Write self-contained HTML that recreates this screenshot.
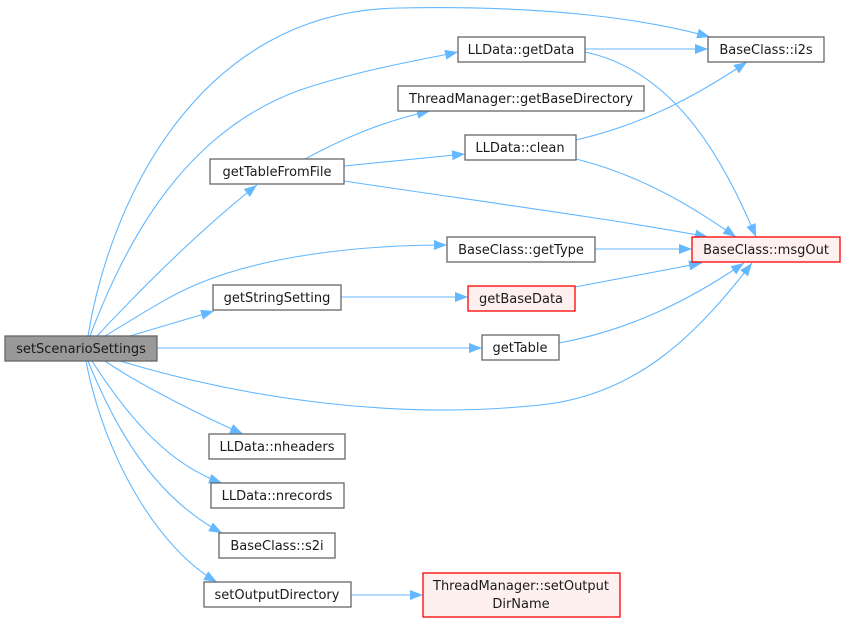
<!DOCTYPE html>
<html><head><meta charset="utf-8"><style>
html,body{margin:0;padding:0;background:#fff;}
svg{display:block;}
text{font-family:"DejaVu Sans","Liberation Sans",sans-serif;font-size:13px;fill:#1a1a1a;}
</style></head><body>
<svg width="845" height="623" viewBox="0 0 845 623" xmlns="http://www.w3.org/2000/svg">
<defs>
<marker id="a" markerUnits="userSpaceOnUse" markerWidth="14" markerHeight="11" refX="13" refY="5" orient="auto">
<path d="M0,0 L13,5 L0,10 z" fill="#63b8ff"/>
</marker>
</defs>
<g fill="none" stroke="#63b8ff" stroke-width="1.1" marker-end="url(#a)">
<path d="M88,336 C110,200 200,10 400,8 C550,5 650,20 710,37"/>
<path d="M90,336 C130,230 190,130 300,90 C360,70 420,60 458,52"/>
<path d="M97,336 C140,290 200,230 257,185"/>
<path d="M105,336 C140,315 170,295 200,283 C260,258 350,245 447,245"/>
<path d="M130,336 L214,311"/>
<path d="M157,348 L482,348"/>
<path d="M120,361 C250,400 400,420 540,405 C640,395 700,330 752,263"/>
<path d="M105,361 C140,385 200,415 243,434"/>
<path d="M92,361 C130,420 170,465 222,483"/>
<path d="M88,361 C120,440 160,500 222,533"/>
<path d="M86,361 C105,460 160,550 217,582"/>
<path d="M305,159 C340,140 380,122 430,111"/>
<path d="M344,166 L465,154"/>
<path d="M344,181 C470,200 620,220 708,237"/>
<path d="M585,49 L708,49"/>
<path d="M585,52 C670,70 720,150 756,237"/>
<path d="M576,140 C640,125 690,100 747,62"/>
<path d="M576,159 C640,175 690,205 736,237"/>
<path d="M595,249 L692,249"/>
<path d="M341,297 L468,297"/>
<path d="M575,287 L702,263"/>
<path d="M559,343 C630,330 690,300 744,263"/>
<path d="M351,595 L423,595"/>
</g>
<g stroke-width="1.3">
<rect x="5" y="336" width="152" height="25" fill="#999" stroke="#666"/>
<rect x="210" y="159" width="134" height="25" fill="#fff" stroke="#666"/>
<rect x="213" y="285" width="128" height="25" fill="#fff" stroke="#666"/>
<rect x="458" y="37" width="127" height="25" fill="#fff" stroke="#666"/>
<rect x="708" y="37" width="116" height="25" fill="#fff" stroke="#666"/>
<rect x="398" y="86" width="246" height="25" fill="#fff" stroke="#666"/>
<rect x="465" y="135" width="111" height="25" fill="#fff" stroke="#666"/>
<rect x="447" y="237" width="148" height="25" fill="#fff" stroke="#666"/>
<rect x="692" y="237" width="148" height="25" fill="#fff0f0" stroke="#ff0000"/>
<rect x="468" y="286" width="107" height="25" fill="#fff0f0" stroke="#ff0000"/>
<rect x="482" y="335" width="77" height="25" fill="#fff" stroke="#666"/>
<rect x="209" y="434" width="136" height="25" fill="#fff" stroke="#666"/>
<rect x="211" y="483" width="133" height="25" fill="#fff" stroke="#666"/>
<rect x="219" y="533" width="116" height="25" fill="#fff" stroke="#666"/>
<rect x="204" y="582" width="147" height="25" fill="#fff" stroke="#666"/>
<rect x="423" y="573" width="197" height="44" fill="#fff0f0" stroke="#ff0000"/>
</g>
<g text-anchor="middle">
<text x="81" y="353">setScenarioSettings</text>
<text x="277" y="176">getTableFromFile</text>
<text x="277" y="302">getStringSetting</text>
<text x="521" y="54">LLData::getData</text>
<text x="766" y="54">BaseClass::i2s</text>
<text x="521" y="103">ThreadManager::getBaseDirectory</text>
<text x="520" y="152">LLData::clean</text>
<text x="521" y="254">BaseClass::getType</text>
<text x="766" y="254">BaseClass::msgOut</text>
<text x="521" y="303">getBaseData</text>
<text x="520" y="352">getTable</text>
<text x="277" y="451">LLData::nheaders</text>
<text x="277" y="500">LLData::nrecords</text>
<text x="277" y="550">BaseClass::s2i</text>
<text x="277" y="599">setOutputDirectory</text>
<text x="521" y="590">ThreadManager::setOutput</text>
<text x="521" y="608">DirName</text>
</g>
</svg>
</body></html>
